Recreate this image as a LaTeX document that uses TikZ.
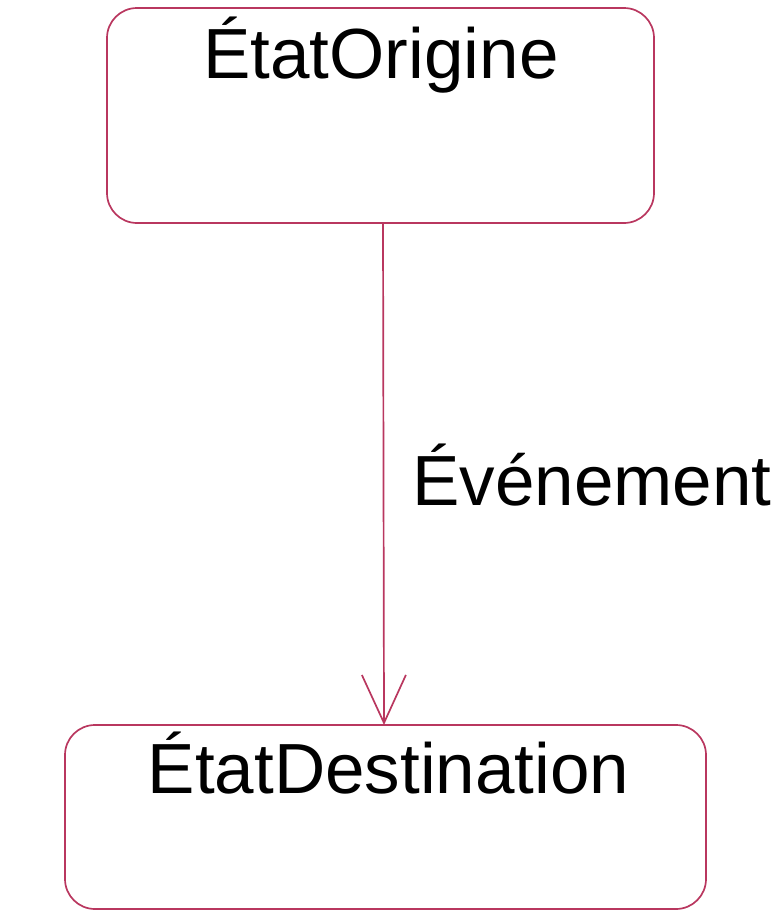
\documentclass[tikz,border=0pt]{standalone}
\usepackage{fontspec}
\setmainfont{Liberation Sans}
\usetikzlibrary{arrows.meta}
\definecolor{statecol}{RGB}{185,55,95}
\begin{document}
\begin{tikzpicture}[x=1pt,y=-1pt,
  statebox/.style={draw=statecol, line width=1.7pt, rounded corners=30pt, inner sep=0pt},
  label/.style={anchor=base, inner sep=0pt, font=\fontsize{71}{85}\selectfont},
  transition/.style={draw=statecol, line width=1.7pt, -{Straight Barb[length=48pt,width=44pt,line width=1.7pt]}}]
  \useasboundingbox (0,0) rectangle (773,913);
  % states
  \node[statebox, minimum width=547pt, minimum height=215pt] (orig) at (380.5,115.5) {};
  \node[statebox, minimum width=641pt, minimum height=184pt] (dest) at (385.5,817) {};
  \node[label] (origT) at (381,78) {ÉtatOrigine};
  \node[label] (destT) at (388.5,793) {ÉtatDestination};
  % transition
  \coordinate (start) at (383,223);
  \coordinate (finish) at (384,725);
  \draw[transition] (start) -- (finish);
  \node[label, anchor=base west] (evt) at (412,505) {Événement};
\end{tikzpicture}
\end{document}
